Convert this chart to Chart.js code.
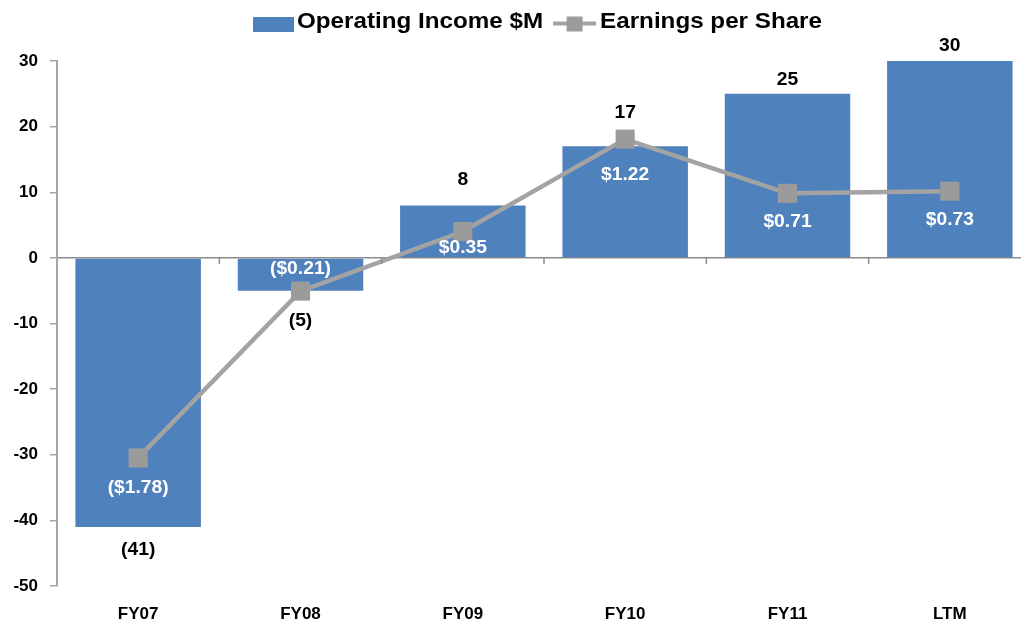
<!DOCTYPE html>
<html><head><meta charset="utf-8">
<script src="https://cdn.jsdelivr.net/npm/chart.js@4"></script>
<style>
html,body{margin:0;padding:0;overflow:hidden;background:#fff;}
/* the source plot area runs slightly past the right edge of the picture */
#wrap{width:1031px;height:624px;position:relative;}
</style></head><body>
<div id="wrap"><canvas id="c"></canvas></div>
<script>
const categories = ['FY07','FY08','FY09','FY10','FY11','LTM'];
const operatingIncome = [-41, -5, 8, 17, 25, 30];
const eps = [-1.78, -0.21, 0.35, 1.22, 0.71, 0.73];
const yTicks = [30, 20, 10, 0, -10, -20, -30, -40, -50];
const incomeLabelOffsets = [23, 30, -25, -33, -14, -15];
const epsLabelOffsets = [30, -22, 16, 36, 29, 29];

const FONT = "'Liberation Sans', Arial, sans-serif";
const BAR_COLOR = '#4F81BD';
const LINE_COLOR = '#A3A3A3';
const MARKER_COLOR = '#9B9B9B';

function fmtIncome(v){ return v < 0 ? '(' + Math.abs(v) + ')' : String(v); }
function fmtEps(v){ return v < 0 ? '($' + Math.abs(v).toFixed(2) + ')' : '$' + v.toFixed(2); }

function stretchedText(c, t, x, y, sx){
  c.save();
  c.translate(x, y);
  c.scale(sx, 1);
  c.fillText(t, 0, 0);
  c.restore();
}

const labelPlugin = {
  id: 'valueLabels',
  afterDatasetsDraw(chart){
    const c = chart.ctx;
    c.save();
    c.font = 'bold 18px ' + FONT;
    c.textAlign = 'center';
    c.textBaseline = 'middle';
    const bm = chart.getDatasetMeta(0);
    bm.data.forEach((el, i) => {
      c.fillStyle = '#000';
      stretchedText(c, fmtIncome(operatingIncome[i]), el.x, el.y + incomeLabelOffsets[i], 1.07);
    });
    const lm = chart.getDatasetMeta(1);
    lm.data.forEach((el, i) => {
      c.fillStyle = '#FFFFFF';
      stretchedText(c, fmtEps(eps[i]), el.x, el.y + epsLabelOffsets[i], 1.07);
    });
    c.restore();
  }
};

const zeroTickPlugin = {
  id: 'zeroTicks',
  afterDatasetsDraw(chart){
    const c = chart.ctx, xs = chart.scales.x, ys = chart.scales.y;
    const y0 = ys.getPixelForValue(0);
    const n = categories.length;
    c.save();
    c.strokeStyle = '#8C8C8C';
    c.lineWidth = 1.5;
    for (let i = 1; i <= n; i++){
      const x = xs.left + i * (xs.width / n);
      c.beginPath(); c.moveTo(x, y0); c.lineTo(x, y0 + 6); c.stroke();
    }
    c.restore();
  }
};

const legendPlugin = {
  id: 'customLegend',
  afterDraw(chart){
    const c = chart.ctx;
    const ds = chart.data.datasets;
    const sx = 1.1;
    c.save();
    c.font = 'bold 22px ' + FONT;
    const t1 = ds[0].label, t2 = ds[1].label;
    const w1 = c.measureText(t1).width * sx, w2 = c.measureText(t2).width * sx;
    const boxW = 41, boxH = 15, gap1 = 3, gapItems = 10, lineW = 43, gap2 = 4;
    const total = boxW + gap1 + w1 + gapItems + lineW + gap2 + w2;
    let x = 537.5 - total / 2;
    const cy = 24.5, base = 28;
    c.fillStyle = BAR_COLOR;
    c.fillRect(x, cy - boxH / 2, boxW, boxH);
    x += boxW + gap1;
    c.fillStyle = '#000';
    c.textBaseline = 'alphabetic';
    c.textAlign = 'left';
    stretchedText(c, t1, x, base, sx);
    x += w1 + gapItems;
    c.strokeStyle = LINE_COLOR;
    c.lineWidth = 4;
    c.beginPath(); c.moveTo(x, cy - 1); c.lineTo(x + lineW, cy - 1); c.stroke();
    c.fillStyle = MARKER_COLOR;
    c.fillRect(x + lineW / 2 - 8, cy - 8, 16, 15);
    x += lineW + gap2;
    c.fillStyle = '#000';
    stretchedText(c, t2, x, base, sx);
    c.restore();
  }
};

new Chart(document.getElementById('c'), {
  data: {
    labels: categories,
    datasets: [
      {
        type: 'bar',
        label: 'Operating Income $M',
        data: operatingIncome,
        backgroundColor: BAR_COLOR,
        yAxisID: 'y',
        order: 2,
        categoryPercentage: 0.773,
        barPercentage: 1
      },
      {
        type: 'line',
        label: 'Earnings per Share',
        data: eps,
        yAxisID: 'y2',
        borderColor: LINE_COLOR,
        borderWidth: 4.5,
        pointStyle: 'rect',
        pointRadius: 13.5,
        pointHoverRadius: 13.5,
        pointBackgroundColor: MARKER_COLOR,
        pointBorderColor: MARKER_COLOR,
        pointBorderWidth: 0,
        tension: 0,
        clip: false,
        order: 1
      }
    ]
  },
  options: {
    responsive: true,
    maintainAspectRatio: false,
    animation: false,
    devicePixelRatio: 1,
    layout: {
      autoPadding: false,
      padding: { top: 61, left: 10, right: 0, bottom: 0 }
    },
    plugins: { legend: { display: false }, tooltip: { enabled: false } },
    scales: {
      x: {
        grid: { display: false },
        border: { display: false },
        ticks: { font: { family: FONT, size: 17, weight: 'bold' }, color: '#000', padding: 10 },
        afterFit: s => { s.height = 38; }
      },
      y: {
        position: 'left',
        min: -50,
        max: 30,
        afterBuildTicks: s => { s.ticks = yTicks.map(v => ({ value: v })); },
        grid: {
          color: ctx => (ctx.tick && ctx.tick.value === 0) ? '#8C8C8C' : 'rgba(0,0,0,0)',
          lineWidth: 1.5,
          tickLength: 7,
          tickColor: '#A6A6A6',
          drawTicks: true
        },
        border: { color: '#A6A6A6', width: 2 },
        ticks: { font: { family: FONT, size: 17, weight: 'bold' }, color: '#000', padding: 12 },
        afterFit: s => { s.width = 47; }
      },
      y2: {
        display: false,
        min: -2.985,
        max: 1.955
      }
    }
  },
  plugins: [labelPlugin, zeroTickPlugin, legendPlugin]
});
</script>
</body></html>
